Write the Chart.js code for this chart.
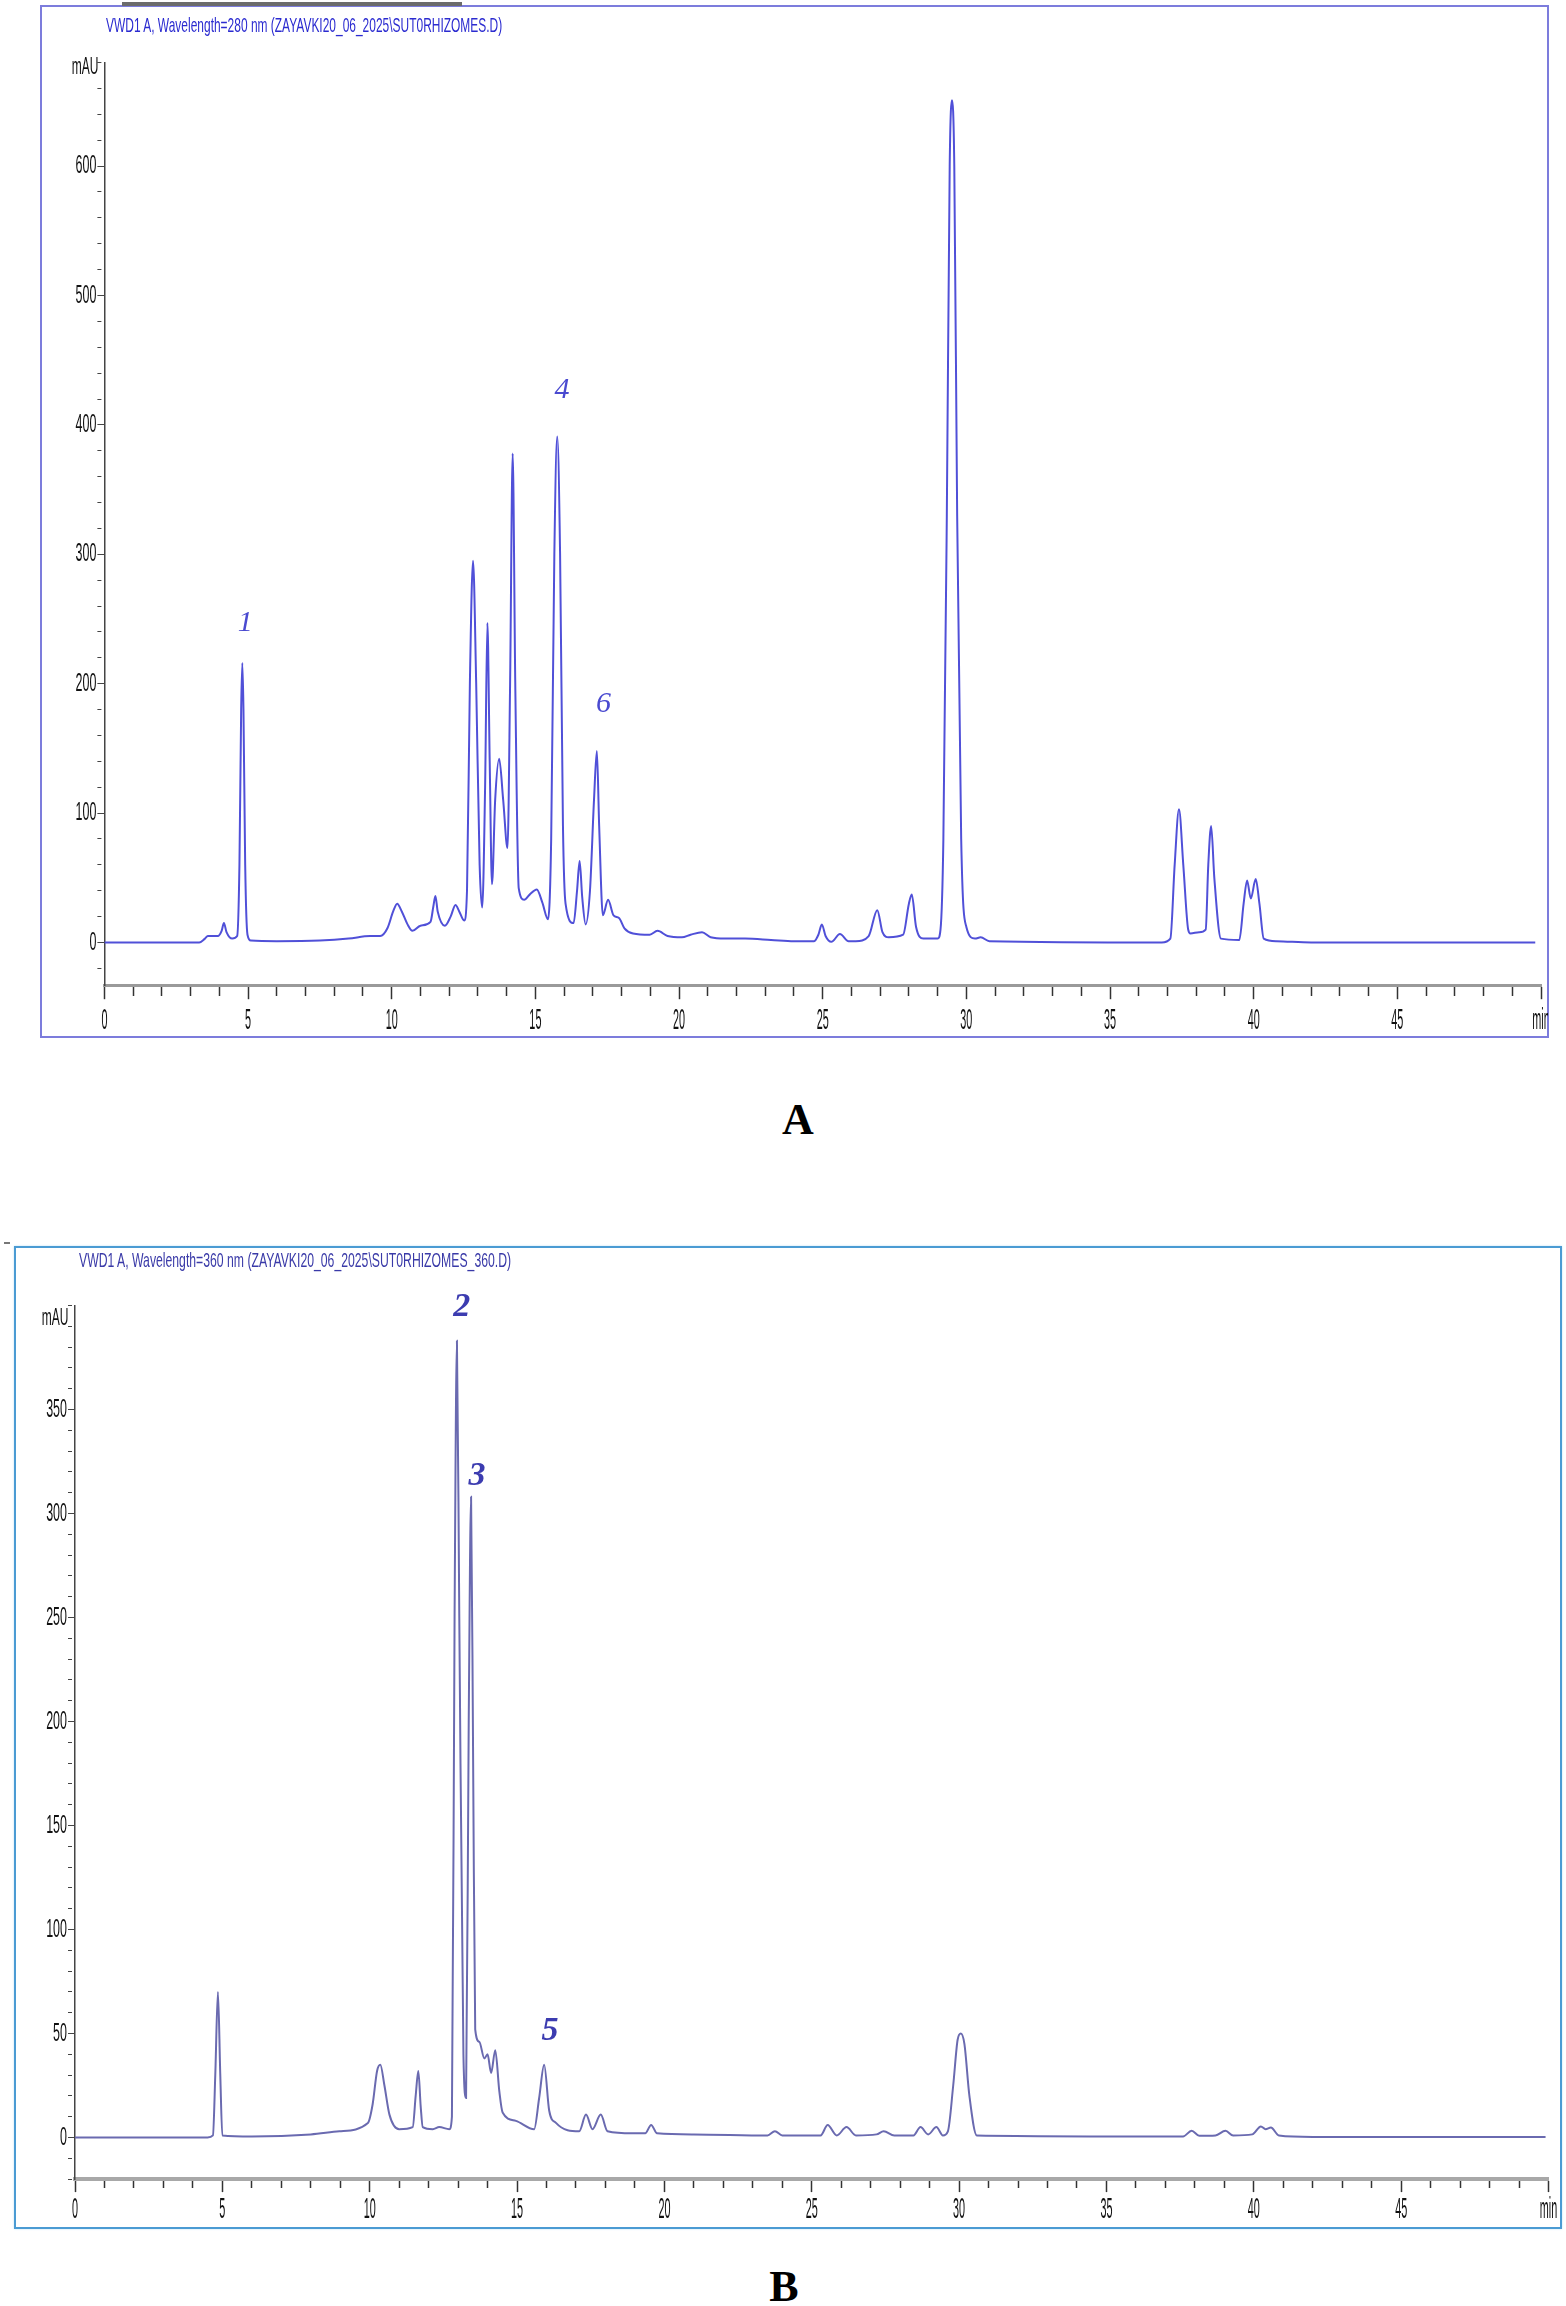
<!DOCTYPE html>
<html>
<head>
<meta charset="utf-8">
<script src="https://cdn.jsdelivr.net/npm/chart.js@4.4.0/dist/chart.umd.min.js"></script>
<style>
body { margin: 0; width: 1566px; height: 2306px; background: #fff; position: relative; overflow: hidden; }
.frame { position: absolute; box-sizing: border-box; }
canvas { position: absolute; }
.ttl { position: absolute; white-space: nowrap; font-family: 'Liberation Sans', Arial, sans-serif; font-size: 21px; line-height: 22px; transform-origin: 0 50%; }
.unit { position: absolute; white-space: nowrap; font-family: 'Liberation Sans', Arial, sans-serif; font-size: 24px; line-height: 24px; color: #111; transform-origin: 100% 50%; transform: scaleX(0.5); }
.cap { position: absolute; font-family: 'Liberation Serif', 'Times New Roman', serif; font-weight: bold; font-size: 44px; line-height: 44px; transform: translate(-50%, -50%); }
</style>
</head>
<body>

<div class="frame" style="left:40px;top:5px;width:1509px;height:1033px;border:2px solid #7c7cdc;"></div>
<div style="position:absolute;left:122px;top:2px;width:340px;height:4px;background:#6c6c6c;"></div>
<canvas id="chartA" width="1507" height="1031" style="left:41px;top:6px;"></canvas>
<div class="ttl" data-w="396" style="left:106px;top:14px;color:#2b2bd0;">VWD1 A, Wavelength=280 nm (ZAYAVKI20_06_2025\SUT0RHIZOMES.D)</div>
<div class="unit" style="right:1468px;top:54px;">mAU</div>
<div class="cap" style="left:798px;top:1120px;">A</div>

<div style="position:absolute;left:4px;top:1242px;width:6px;height:2px;background:#777;"></div>
<div class="frame" style="left:14px;top:1246px;width:1548px;height:983px;border:2.5px solid #4b9bd3;box-shadow:0 0 2px #bfe3f5;"></div>
<canvas id="chartB" width="1546" height="981" style="left:15px;top:1247px;"></canvas>
<div class="ttl" data-w="432" style="left:79px;top:1249px;color:#3a3aa8;">VWD1 A, Wavelength=360 nm (ZAYAVKI20_06_2025\SUT0RHIZOMES_360.D)</div>
<div class="unit" style="right:1498px;top:1305px;">mAU</div>
<div class="cap" style="left:784px;top:2287px;">B</div>

<script>
// retention time axis, shared by both runs
const xMajor = [0, 5, 10, 15, 20, 25, 30, 35, 40, 45];
const xEndLabel = 'min';

// run A, 280 nm
const yMajorA = [0, 100, 200, 300, 400, 500, 600];
const timeA = [
  0, 3.3, 3.5, 3.6, 3.95, 4.08, 4.16, 4.25, 4.45, 4.62, 4.70, 4.76, 4.80, 4.84, 4.90, 4.98, 5.10,
  6.0, 7.5, 8.5, 9.25, 9.6, 9.85, 10.05, 10.19, 10.35, 10.55, 10.72, 11.0, 11.35, 11.45, 11.52, 11.6, 11.85, 12.05, 12.22, 12.35, 12.52,
  12.62, 12.72, 12.83, 12.94, 13.06, 13.15, 13.25, 13.33, 13.41, 13.49, 13.6, 13.74, 13.88, 14.03, 14.12, 14.21, 14.30,
  14.42, 14.61, 14.8, 15.05, 15.24, 15.44, 15.55, 15.66, 15.76, 15.86, 15.96, 16.05, 16.33, 16.45, 16.54, 16.63, 16.75, 16.9, 17.04, 17.14, 17.22,
  17.35, 17.53, 17.72, 17.91, 18.1, 18.4, 18.98, 19.25, 19.6, 20.1, 20.4, 20.8, 21.1, 21.6, 22.3, 23.2, 24.0, 24.7,
  24.85, 24.97, 25.1, 25.3, 25.6, 25.9, 26.15, 26.6, 26.9, 27.08, 27.3, 27.8, 28.0, 28.1, 28.25, 28.5, 29.0, 29.1,
  29.2, 29.32, 29.42, 29.5, 29.58, 29.68, 29.82, 30.0, 30.3, 30.5, 30.8, 36.8,
  37.1, 37.25, 37.4, 37.55, 37.72, 37.8, 38.1, 38.33, 38.42, 38.52, 38.63, 38.86, 39.5, 39.65, 39.77, 39.9, 40.07, 40.2, 40.35, 40.8, 42, 49.8
];
const signalA = [
  0, 0, 3, 5, 5, 9, 15, 8, 3, 5, 60, 180, 216, 180, 60, 6, 1.5,
  1, 1.5, 3, 5, 5, 11, 24, 30, 24, 14, 9, 13, 16, 28, 36, 24, 13, 20, 29, 24, 17,
  40, 200, 295, 200, 60, 27, 120, 247, 140, 45, 110, 142, 110, 73, 200, 378, 200,
  42, 33, 37, 41, 31, 18, 80, 300, 391, 300, 90, 30, 15, 40, 63, 35, 14, 40, 110, 148, 90,
  21, 33, 21, 19, 11, 7, 6, 9, 5, 4, 6, 8, 4, 3, 3, 2, 1, 1,
  6, 14, 5, 0.5, 6.5, 1, 1, 5, 25, 8, 4, 6, 30, 37, 12, 3, 3, 10,
  80, 330, 600, 651, 600, 330, 80, 12, 3, 4, 1, 0,
  3, 60, 103, 60, 10, 7, 8, 10, 60, 90, 50, 3, 2, 30, 48, 34, 49, 30, 3, 1, 0, 0
];
const peakNamesA = ['1', '4', '6'];
const peakTimesA = [4.9, 15.93, 17.37];
const peakTagA = [247, 427, 184];

// run B, 360 nm
const yMajorB = [0, 50, 100, 150, 200, 250, 300, 350];
const timeB = [
  0, 4.5, 4.68, 4.76, 4.85, 4.93, 5.0, 6.0, 8.0, 8.97, 9.94,
  10.1, 10.25, 10.36, 10.5, 10.67, 11.0, 11.46, 11.56, 11.65, 11.73, 11.8, 12.14, 12.36, 12.7, 12.79,
  12.88, 12.96, 13.04, 13.18, 13.27, 13.36, 13.44, 13.51, 13.58, 13.72, 13.89, 14.0, 14.12, 14.26, 14.4, 14.51, 14.96, 15.58,
  15.75, 15.92, 16.09, 16.32, 17.11, 17.34, 17.56, 17.84, 18.07, 18.92, 19.35, 19.55, 19.75, 21, 23.5, 23.75, 24.0,
  25.3, 25.54, 25.85, 26.18, 26.5, 27.2, 27.44, 27.8, 28.45, 28.69, 28.95, 29.23, 29.45, 29.62, 29.8, 29.95, 30.06, 30.18, 30.35, 30.6,
  37.6, 37.89, 38.15, 38.7, 39.04, 39.3, 39.95, 40.24, 40.4, 40.58, 40.85, 42, 49.9
];
const signalB = [
  0, 0, 1, 30, 70, 30, 1, 0.5, 1.5, 3, 7,
  16, 32, 35, 25, 11, 4, 5, 20, 32, 15, 5, 4, 5, 4, 10,
  250, 383, 250, 40, 19, 200, 308, 180, 52, 46, 38, 40, 31, 42, 22, 12, 8, 4,
  19, 35, 13, 7, 3, 11, 4, 11, 3, 2, 2, 6, 2, 1.5, 1, 3, 1,
  1, 6, 1, 5, 1, 1.5, 3, 1, 1, 5, 1.5, 5, 1, 3, 25, 47, 50, 45, 20, 1,
  0.5, 3.2, 0.8, 1, 3.2, 1, 1.5, 5.3, 4, 4.8, 1, 0.3, 0.3
];
const peakNamesB = ['2', '3', '5'];
const peakTimesB = [13.12, 13.64, 16.12];
const peakTagB = [399, 318, 51];

// squeezed tick labels, like the instrument printout
const decor = {
  id: 'decor',
  afterDraw(chart, args, o) {
    const {ctx, chartArea} = chart;
    const xs = chart.scales.x, ys = chart.scales.y;
    ctx.save();
    ctx.fillStyle = '#111';
    ctx.textBaseline = 'middle';

    ctx.font = "30px 'Liberation Sans', Arial, sans-serif";
    xs.ticks.forEach(tk => {
      if (!tk.label) return;
      ctx.save();
      ctx.translate(xs.getPixelForValue(tk.value), chartArea.bottom + o.xGap);
      ctx.scale(o.xSqueeze, 1);
      ctx.textAlign = 'center';
      ctx.fillText(tk.label, 0, 0);
      ctx.restore();
    });

    ctx.font = "26px 'Liberation Sans', Arial, sans-serif";
    ys.ticks.forEach(tk => {
      if (!tk.label) return;
      ctx.save();
      ctx.translate(chartArea.left - o.yGap, ys.getPixelForValue(tk.value));
      ctx.scale(0.48, 1);
      ctx.textAlign = 'right';
      ctx.fillText(tk.label, 0, 0);
      ctx.restore();
    });

    // peak numbers
    ctx.font = o.peakFont;
    ctx.fillStyle = o.peakColor;
    ctx.textAlign = 'center';
    o.names.forEach((nm, i) => {
      ctx.fillText(nm, xs.getPixelForValue(o.times[i]), ys.getPixelForValue(o.tags[i]));
    });
    ctx.restore();
  }
};

function stepTicks(lo, hi, step) {
  const out = [];
  for (let v = Math.ceil(lo / step) * step; v <= hi + 1e-9; v += step) out.push({value: v});
  return out;
}

function makeChart(id, time, signal, cfg) {
  const pts = time.map((t, i) => ({x: t, y: signal[i]}));
  return new Chart(document.getElementById(id), {
    type: 'line',
    data: {
      datasets: [{
        data: pts,
        borderColor: cfg.color,
        borderWidth: 2,
        pointRadius: 0,
        fill: false,
        cubicInterpolationMode: 'monotone'
      }]
    },
    plugins: [decor],
    options: {
      responsive: false,
      animation: false,
      layout: {padding: cfg.padding},
      plugins: {
        legend: {display: false},
        tooltip: {enabled: false},
        decor: cfg.decor
      },
      scales: {
        x: {
          type: 'linear',
          min: 0,
          max: 50,
          bounds: 'data',
          afterBuildTicks: s => { s.ticks = stepTicks(0, 50, 1); },
          afterFit: s => { s.height = cfg.xHeight; },
          border: {display: true, color: cfg.xAxisColor, width: cfg.xAxisWidth},
          grid: {
            drawOnChartArea: false,
            tickLength: cfg.xTick,
            tickColor: '#333',
            tickWidth: 1.5,
            tickBorderDash: c => xMajor.includes(c.tick.value) || c.tick.value === 50 ? [] : [cfg.xMinor, 100]
          },
          ticks: {
            display: false,
            autoSkip: false,
            callback: v => xMajor.includes(v) ? String(v) : (v === 50 ? xEndLabel : '')
          }
        },
        y: {
          type: 'linear',
          min: cfg.yMin,
          max: cfg.yMax,
          bounds: 'data',
          afterBuildTicks: s => { s.ticks = stepTicks(cfg.yMin, cfg.yMax, cfg.yStep); },
          afterFit: s => { s.width = cfg.yWidth; },
          border: {display: true, color: '#444', width: 1.5},
          grid: {
            drawOnChartArea: false,
            tickLength: 7,
            tickColor: '#444',
            tickWidth: 1,
            tickBorderDash: c => cfg.yMajor.includes(c.tick.value) ? [] : [4, 100]
          },
          ticks: {
            display: false,
            autoSkip: false,
            callback: v => cfg.yMajor.includes(v) ? String(v) : ''
          }
        }
      }
    }
  });
}

makeChart('chartA', timeA, signalA, {
  color: '#5050d8',
  yMin: -33, yMax: 680, yStep: 20, yMajor: yMajorA,
  padding: {left: 0, right: 7, top: 56.6, bottom: 0},
  yWidth: 63.4, xHeight: 51.8,
  xAxisColor: '#9a9a9a', xAxisWidth: 3, xTick: 14, xMinor: 9,
  decor: {
    xGap: 36, yGap: 8, xSqueeze: 0.36,
    names: peakNamesA, times: peakTimesA, tags: peakTagA,
    peakFont: "italic 30px 'Liberation Serif', serif", peakColor: '#4a4ad0'
  }
});

makeChart('chartB', timeB, signalB, {
  color: '#6a6ab0',
  yMin: -20, yMax: 400, yStep: 10, yMajor: yMajorB,
  padding: {left: 0, right: 12.5, top: 58.5, bottom: 0},
  yWidth: 60, xHeight: 48.9,
  xAxisColor: '#a8a8a8', xAxisWidth: 4, xTick: 13, xMinor: 7,
  decor: {
    xGap: 31, yGap: 8, xSqueeze: 0.36,
    names: peakNamesB, times: peakTimesB, tags: peakTagB,
    peakFont: "italic bold 34px 'Liberation Serif', serif", peakColor: '#3c3cb0'
  }
});

// squeeze the run titles to the printed width
document.querySelectorAll('.ttl').forEach(el => {
  const w = parseFloat(el.dataset.w);
  el.style.transform = 'scaleX(' + (w / el.offsetWidth) + ')';
});
</script>
</body>
</html>
